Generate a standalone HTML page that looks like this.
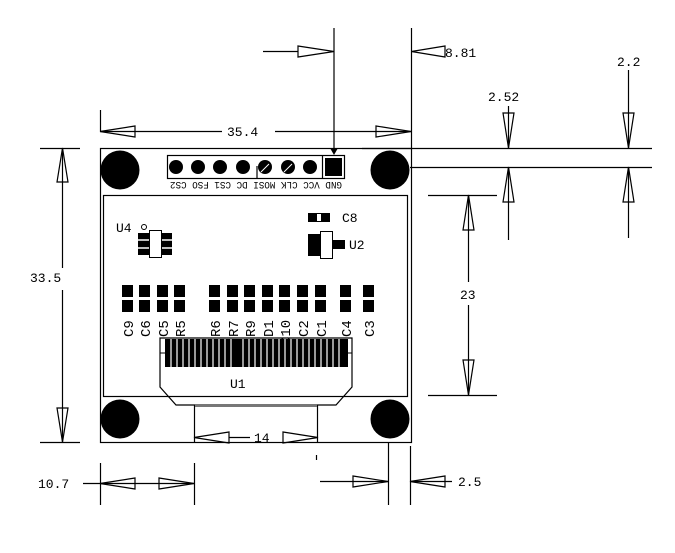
<!DOCTYPE html>
<html><head><meta charset="utf-8"><style>
html,body{margin:0;padding:0;background:#fff;}
svg{display:block;}
text{font-family:"Liberation Mono","DejaVu Sans Mono",monospace;fill:#000;}
</style></head><body>
<svg width="675" height="553" viewBox="0 0 675 553" xmlns="http://www.w3.org/2000/svg">
<g stroke="#000" stroke-width="1.2" fill="none">
<rect x="100.5" y="148.5" width="311" height="294"/>
<rect x="103.5" y="195.5" width="304" height="201"/>
<line x1="362" y1="148.5" x2="652" y2="148.5"/>
<line x1="410" y1="167.5" x2="652" y2="167.5"/>
<line x1="334" y1="28" x2="334" y2="150"/>
<line x1="411.5" y1="28" x2="411.5" y2="148"/>
<line x1="263" y1="51.5" x2="298" y2="51.5"/>
<polygon points="298,46 334,51.5 298,57"/>
<polygon points="445,46 411.5,51.5 445,57"/>
<line x1="100.5" y1="110" x2="100.5" y2="131"/>
<line x1="100" y1="131.5" x2="222" y2="131.5"/>
<line x1="275" y1="131.5" x2="411" y2="131.5"/>
<polygon points="100,131.5 135,126 135,137"/>
<polygon points="411,131.5 376,126 376,137"/>
<rect x="167.5" y="155.5" width="177" height="23"/>
<line x1="257" y1="166" x2="257" y2="178"/>
<line x1="322.5" y1="156" x2="322.5" y2="178"/>
<line x1="40" y1="148.5" x2="80" y2="148.5"/>
<line x1="40" y1="442.5" x2="80" y2="442.5"/>
<line x1="62.5" y1="148" x2="62.5" y2="268"/>
<line x1="62.5" y1="290" x2="62.5" y2="442"/>
<polygon points="62.5,148 57,182 68,182"/>
<polygon points="62.5,442 57,408 68,408"/>
<line x1="428" y1="195.5" x2="497" y2="195.5"/>
<line x1="428" y1="395.5" x2="497" y2="395.5"/>
<line x1="468.5" y1="195" x2="468.5" y2="282"/>
<line x1="468.5" y1="305" x2="468.5" y2="395"/>
<polygon points="468.5,195 463,230 474,230"/>
<polygon points="468.5,395 463,360 474,360"/>
<line x1="508.5" y1="106" x2="508.5" y2="148"/>
<line x1="508.5" y1="167" x2="508.5" y2="240"/>
<polygon points="508.5,148 503,113 514,113"/>
<polygon points="508.5,167 503,202 514,202"/>
<line x1="628.5" y1="70" x2="628.5" y2="148"/>
<line x1="628.5" y1="167" x2="628.5" y2="238"/>
<polygon points="628.5,148 623,113 634,113"/>
<polygon points="628.5,167 623,202 634,202"/>
<polygon points="160,338 352,338 352,387 336,405 176,405 160,387"/>
<line x1="194.5" y1="405" x2="194.5" y2="442"/>
<line x1="317.5" y1="405" x2="317.5" y2="442"/>
<line x1="229" y1="437.5" x2="250" y2="437.5"/>
<polygon points="194,437.5 229,432 229,443"/>
<polygon points="318,437.5 283,432 283,443"/>
<line x1="316.5" y1="455" x2="316.5" y2="460"/>
<line x1="100.5" y1="463" x2="100.5" y2="505"/>
<line x1="194.5" y1="463" x2="194.5" y2="505"/>
<line x1="83" y1="483.5" x2="194" y2="483.5"/>
<polygon points="100,483.5 135,478 135,489"/>
<polygon points="194,483.5 159,478 159,489"/>
<line x1="388.5" y1="442" x2="388.5" y2="505"/>
<line x1="410.5" y1="446" x2="410.5" y2="505"/>
<line x1="320" y1="481.5" x2="388" y2="481.5"/>
<polygon points="388,481.5 353,476 353,487"/>
<line x1="410" y1="481.5" x2="452" y2="481.5"/>
<polygon points="410,481.5 445,476 445,487"/>
</g>
<polygon points="330,148 338,148 334,155" fill="#000"/>
<g fill="#000">
<circle cx="120" cy="170" r="19.5"/><circle cx="390" cy="170" r="19.5"/>
<circle cx="120" cy="419" r="19.5"/><circle cx="390" cy="419" r="19.5"/>
<circle cx="176" cy="167" r="7"/><circle cx="198" cy="167" r="7"/>
<circle cx="220" cy="167" r="7"/><circle cx="243" cy="167" r="7"/>
<circle cx="265" cy="167" r="7"/><circle cx="288" cy="167" r="7"/>
<circle cx="310" cy="167" r="7"/>
<rect x="325" y="158" width="17" height="18"/>
</g>
<line x1="261" y1="172" x2="269" y2="164" stroke="#fff" stroke-width="1"/>
<line x1="284" y1="172" x2="292" y2="164" stroke="#fff" stroke-width="1"/>
<text transform="translate(256,182) rotate(180)" font-size="10" text-anchor="middle" font-family="Liberation Sans" textLength="172" lengthAdjust="spacingAndGlyphs">GND VCC  CLK MOSI  DC  CS1  FSO  CS2</text>
<rect x="138" y="233" width="34" height="22" fill="#000"/>
<line x1="138" y1="240" x2="172" y2="240" stroke="#fff" stroke-width="1.5"/>
<line x1="138" y1="248" x2="172" y2="248" stroke="#fff" stroke-width="1.5"/>
<rect x="149.5" y="230.5" width="12" height="27" fill="#fff" stroke="#000"/>
<circle cx="144" cy="227" r="2.5" fill="none" stroke="#000"/>
<text x="116" y="232" font-size="13" font-family="Liberation Sans">U4</text>
<rect x="308" y="213" width="22" height="9" fill="#000"/>
<rect x="317" y="214" width="4" height="7" fill="#fff"/>
<text x="342" y="222" font-size="13" font-family="Liberation Sans">C8</text>
<rect x="308" y="234" width="24" height="22" fill="#000"/>
<rect x="332" y="240" width="13" height="9" fill="#000"/>
<rect x="320.5" y="231.5" width="12" height="27" fill="#fff" stroke="#000"/>
<text x="349" y="249" font-size="13" font-family="Liberation Sans">U2</text>
<g fill="#000">
<rect x="122" y="285" width="11" height="27"/><rect x="139" y="285" width="11" height="27"/>
<rect x="157" y="285" width="11" height="27"/><rect x="174" y="285" width="11" height="27"/>
<rect x="209" y="285" width="11" height="27"/><rect x="227" y="285" width="11" height="27"/>
<rect x="244" y="285" width="11" height="27"/><rect x="262" y="285" width="11" height="27"/>
<rect x="279" y="285" width="11" height="27"/><rect x="297" y="285" width="11" height="27"/>
<rect x="315" y="285" width="11" height="27"/><rect x="340" y="285" width="11" height="27"/>
<rect x="363" y="285" width="11" height="27"/>
</g>
<rect x="120" y="297" width="260" height="3" fill="#fff"/>
<g font-size="14" font-family="Liberation Sans">
<text transform="translate(133,337) rotate(-90)">C9</text>
<text transform="translate(150,337) rotate(-90)">C6</text>
<text transform="translate(168,337) rotate(-90)">C5</text>
<text transform="translate(185,337) rotate(-90)">R5</text>
<text transform="translate(220,337) rotate(-90)">R6</text>
<text transform="translate(238,337) rotate(-90)">R7</text>
<text transform="translate(255,337) rotate(-90)">R9</text>
<text transform="translate(273,337) rotate(-90)">D1</text>
<text transform="translate(290,345) rotate(-90)">C10</text>
<text transform="translate(308,337) rotate(-90)">C2</text>
<text transform="translate(326,337) rotate(-90)">C1</text>
<text transform="translate(351,337) rotate(-90)">C4</text>
<text transform="translate(374,337) rotate(-90)">C3</text>
</g>
<rect x="165" y="339" width="183" height="28" fill="#000"/>
<g stroke="#fff" stroke-width="1.2">
<line x1="171" y1="339" x2="171" y2="367"/><line x1="177" y1="339" x2="177" y2="367"/>
<line x1="183" y1="339" x2="183" y2="367"/><line x1="189" y1="339" x2="189" y2="367"/>
<line x1="195" y1="339" x2="195" y2="367"/><line x1="201" y1="339" x2="201" y2="367"/>
<line x1="207" y1="339" x2="207" y2="367"/><line x1="213" y1="339" x2="213" y2="367"/>
<line x1="219" y1="339" x2="219" y2="367"/><line x1="225" y1="339" x2="225" y2="367"/>
<line x1="231" y1="339" x2="231" y2="367"/><line x1="243" y1="339" x2="243" y2="367"/>
<line x1="249" y1="339" x2="249" y2="367"/><line x1="255" y1="339" x2="255" y2="367"/>
<line x1="261" y1="339" x2="261" y2="367"/><line x1="267" y1="339" x2="267" y2="367"/>
<line x1="273" y1="339" x2="273" y2="367"/><line x1="279" y1="339" x2="279" y2="367"/>
<line x1="285" y1="339" x2="285" y2="367"/><line x1="291" y1="339" x2="291" y2="367"/>
<line x1="297" y1="339" x2="297" y2="367"/><line x1="303" y1="339" x2="303" y2="367"/>
<line x1="309" y1="339" x2="309" y2="367"/><line x1="315" y1="339" x2="315" y2="367"/>
<line x1="321" y1="339" x2="321" y2="367"/><line x1="327" y1="339" x2="327" y2="367"/>
<line x1="333" y1="339" x2="333" y2="367"/><line x1="339" y1="339" x2="339" y2="367"/>
</g>
<line x1="160" y1="353" x2="165" y2="353" stroke="#000"/><line x1="348" y1="353" x2="352" y2="353" stroke="#000"/>
<rect x="195" y="404" width="122" height="3" fill="#777"/>
<text x="230" y="388" font-size="13" font-family="Liberation Sans">U1</text>
<g font-size="13">
<text x="445" y="57">8.81</text>
<text x="227" y="136">35.4</text>
<text x="30" y="282">33.5</text>
<text x="460" y="299">23</text>
<text x="488" y="101">2.52</text>
<text x="617" y="66">2.2</text>
<text x="254" y="442">14</text>
<text x="38" y="488">10.7</text>
<text x="458" y="486">2.5</text>
</g>
</svg>
</body></html>
